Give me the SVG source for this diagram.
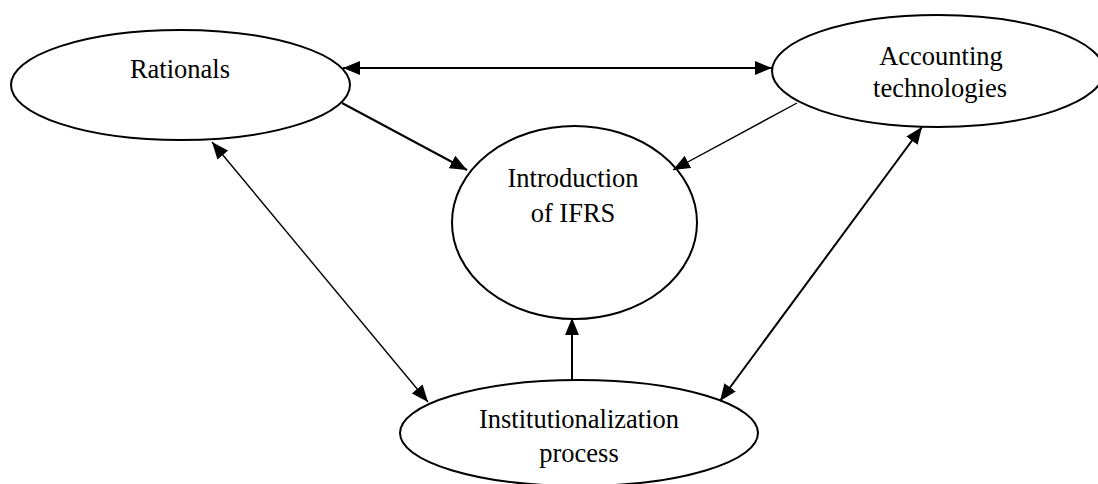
<svg xmlns="http://www.w3.org/2000/svg" width="1098" height="484" viewBox="0 0 1098 484">
<style>
.node{fill:#fff;stroke:#000;stroke-width:2}
.lbl{font-family:"Liberation Serif","Times New Roman",serif;font-size:26.5px;fill:#000;text-anchor:middle}
.c{fill:none;stroke:#000;stroke-width:2}
.t{fill:none;stroke:#000;stroke-width:1.4}
</style>
<defs>
<marker id="ah" markerUnits="userSpaceOnUse" markerWidth="18" markerHeight="15" refX="17" refY="7" orient="auto-start-reverse" viewBox="0 0 18 14">
<path d="M0,0 L17,7 L0,14 z" fill="#000"/>
</marker>
</defs>
<rect width="1098" height="484" fill="#fff"/>
<g id="rationals">
<ellipse class="node" cx="180.5" cy="85" rx="169.5" ry="55"/>
<text class="lbl" x="180" y="78">Rationals</text>
</g>
<g id="accounting">
<ellipse class="node" cx="938" cy="71" rx="166" ry="56"/>
<text class="lbl" x="941" y="65">Accounting</text>
<text class="lbl" x="940" y="97">technologies</text>
</g>
<g id="introduction">
<ellipse class="node" cx="574.5" cy="222.5" rx="122.5" ry="96.5"/>
<text class="lbl" x="573" y="187">Introduction</text>
<text class="lbl" x="573" y="222">of IFRS</text>
</g>
<g id="institutionalization">
<ellipse class="node" cx="579" cy="433" rx="179" ry="53"/>
<text class="lbl" x="579" y="428">Institutionalization</text>
<text class="lbl" x="579" y="462">process</text>
</g>
<g id="connectors">
<line class="c" x1="343" y1="68" x2="772" y2="68" marker-start="url(#ah)" marker-end="url(#ah)"/>
<line class="c" x1="342" y1="103" x2="467" y2="170" marker-end="url(#ah)"/>
<line class="t" x1="797" y1="103" x2="673" y2="170" marker-end="url(#ah)"/>
<line class="c" x1="572" y1="380" x2="572" y2="318" marker-end="url(#ah)"/>
<line class="t" x1="212" y1="142" x2="428" y2="402" marker-start="url(#ah)" marker-end="url(#ah)"/>
<line class="c" x1="922" y1="127" x2="720" y2="401" marker-start="url(#ah)" marker-end="url(#ah)"/>
</g>
</svg>
